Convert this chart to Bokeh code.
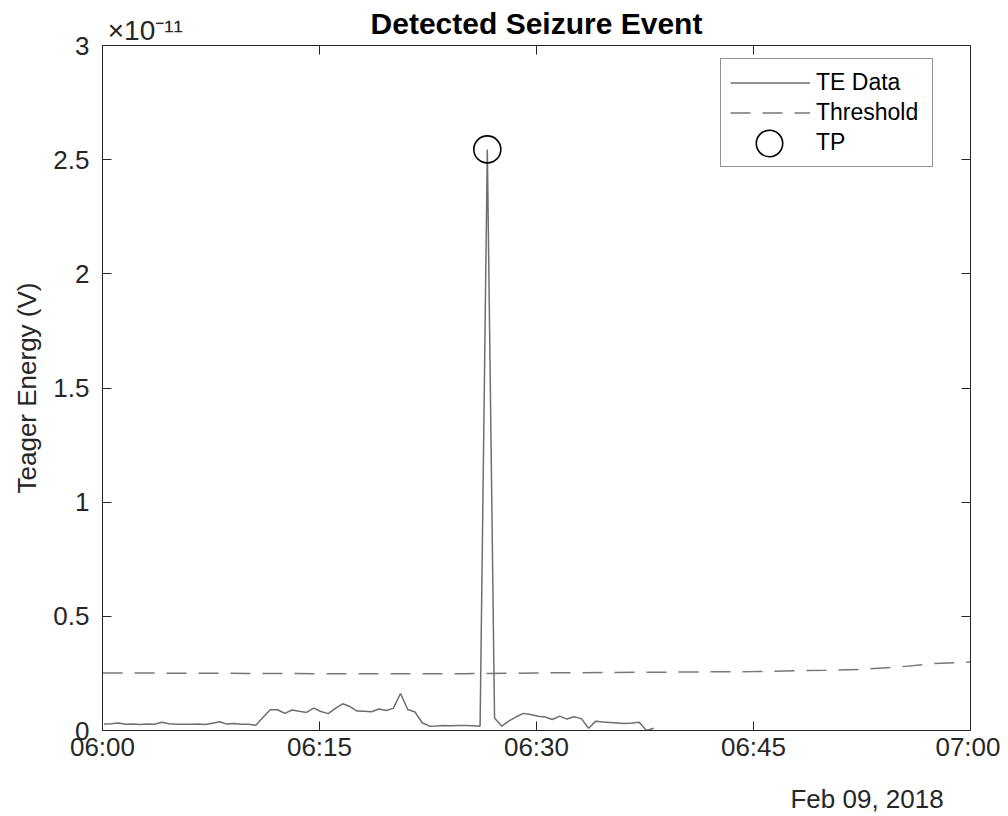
from bokeh.plotting import figure
from bokeh.models import Range1d, FixedTicker, LinearAxis, Legend, LegendItem
from bokeh.embed import file_html
from bokeh.resources import INLINE

# ---------------- data ----------------
title_text = "Detected Seizure Event"
ylabel_text = "Teager Energy (V)"
date_text = "Feb 09, 2018"
y_exponent_text = "\u00d710\u207b\u00b9\u00b9"     # x10^-11 scale factor

x_ticks = [0, 15, 30, 45, 60]                      # minutes after 06:00
x_tick_labels = ["06:00", "06:15", "06:30", "06:45", "07:00"]
y_ticks = [0, 0.5, 1, 1.5, 2, 2.5, 3]
y_tick_labels = ["0", "0.5", "1", "1.5", "2", "2.5", "3"]

# TE data, sampled every 30 s starting 06:00:06 (values in units of 1e-11 V)
te_first_min = 0.1
te_step_min = 0.5
te_values = [
    0.029, 0.030, 0.033, 0.027, 0.029, 0.026, 0.028, 0.027, 0.036, 0.030,
    0.027, 0.027, 0.027, 0.028, 0.026, 0.032, 0.038, 0.028, 0.031, 0.027,
    0.027, 0.023, 0.058, 0.091, 0.091, 0.075, 0.090, 0.084, 0.079, 0.098,
    0.083, 0.074, 0.097, 0.117, 0.105, 0.085, 0.084, 0.082, 0.094, 0.088,
    0.097, 0.162, 0.092, 0.081, 0.034, 0.019, 0.020, 0.022, 0.021, 0.022,
    0.022, 0.021, 0.019, 2.545, 0.055, 0.019, 0.042, 0.060, 0.075, 0.070,
    0.062, 0.059, 0.048, 0.063, 0.050, 0.060, 0.052, 0.010, 0.041, 0.037,
    0.035, 0.033, 0.031, 0.033, 0.036, 0.000, 0.010,
]
te_minutes = [te_first_min + te_step_min * i for i in range(len(te_values))]

thr_minutes = [0, 5, 10, 15, 20, 25, 30, 35, 40, 45, 50, 52.5, 55, 57.5, 60]
thr_values = [0.252, 0.251, 0.250, 0.249, 0.248, 0.249, 0.252, 0.254, 0.256,
              0.258, 0.264, 0.268, 0.278, 0.293, 0.300]

tp_minutes = [26.6]
tp_values = [2.545]

# ---------------- style ----------------
FONT = "Liberation Sans"
AX = "#262626"
TICK_FS = "26px"
W, H = 1000, 816
DATE_POS = 52.85          # horizontal position (in x units) of the date text centre

p = figure(width=W, height=H, title=None,
           x_range=Range1d(0, 60), y_range=Range1d(0, 3),
           output_backend="svg", toolbar_location=None,
           min_border_left=102, min_border_right=W - 970,
           min_border_top=45, min_border_bottom=H - 731,
           background_fill_color="white", border_fill_color="white")
p.xgrid.visible = False
p.ygrid.visible = False
p.outline_line_color = AX
p.outline_line_width = 1

def style_axis(ax, label_size):
    ax.axis_line_color = AX
    ax.axis_line_width = 1
    ax.major_tick_line_color = AX
    ax.major_tick_in = 9
    ax.major_tick_out = 0
    ax.minor_tick_line_color = None
    ax.major_label_text_font = FONT
    ax.major_label_text_color = AX
    ax.major_label_text_font_size = label_size

# bottom axis
xa = p.xaxis[0]
xa.ticker = FixedTicker(ticks=x_ticks)
xa.major_label_overrides = {t: l for t, l in zip(x_ticks, x_tick_labels)}
style_axis(xa, TICK_FS)
xa.major_label_standoff = 1

# date line under the bottom axis (label-only axis)
xd = LinearAxis(ticker=FixedTicker(ticks=[DATE_POS]))
xd.major_label_overrides = {DATE_POS: date_text}
xd.axis_line_color = None
xd.major_tick_line_color = None
xd.minor_tick_line_color = None
xd.major_label_text_font = FONT
xd.major_label_text_font_size = TICK_FS
xd.major_label_text_color = AX
xd.major_label_standoff = 13
p.add_layout(xd, "below")

# left axis
ya = p.yaxis[0]
ya.ticker = FixedTicker(ticks=y_ticks)
ya.major_label_overrides = {t: l for t, l in zip(y_ticks, y_tick_labels)}
style_axis(ya, TICK_FS)
ya.major_label_standoff = 13
ya.axis_label = ylabel_text
ya.axis_label_text_font = FONT
ya.axis_label_text_font_size = "26px"
ya.axis_label_text_font_style = "normal"
ya.axis_label_text_color = AX
ya.axis_label_standoff = 8

# right mirror axis (ticks only)
ya2 = LinearAxis(ticker=FixedTicker(ticks=y_ticks))
style_axis(ya2, "0px")
ya2.major_label_standoff = 0
p.add_layout(ya2, "right")

# top mirror axis: carries the x10^-11 factor (at the left end) and the title
pad = "\u00a0" * 11
top_labels = {t: "" for t in x_ticks}
top_labels[x_ticks[0]] = pad + y_exponent_text
xa2 = LinearAxis(ticker=FixedTicker(ticks=x_ticks))
style_axis(xa2, "28px")
xa2.major_label_overrides = top_labels
xa2.major_label_standoff = 0
xa2.axis_label = title_text
xa2.axis_label_text_font = FONT
xa2.axis_label_text_font_size = "30px"
xa2.axis_label_text_font_style = "bold"
xa2.axis_label_text_color = "black"
xa2.axis_label_standoff = -28
p.add_layout(xa2, "above")

# ---------------- glyphs ----------------
r_thr = p.line(thr_minutes, thr_values, line_color="#777777", line_width=1.5,
               line_dash="20 12")
r_te = p.line(te_minutes, te_values, line_color="#6e6e6e", line_width=1.5)
r_tp = p.scatter(tp_minutes, tp_values, marker="circle", size=27,
                 fill_color=None, line_color="black", line_width=1.6)
r_tp_blank = p.scatter(tp_minutes, tp_values, marker="circle", size=1,
                       fill_alpha=0, line_alpha=0)

# ---------------- legend ----------------
legend1 = Legend(items=[LegendItem(label="TE Data", renderers=[r_te]),
                        LegendItem(label="Threshold", renderers=[r_thr]),
                        LegendItem(label="TP", renderers=[r_tp_blank])],
                 location=(618, 563), padding=9, spacing=1,
                 glyph_width=80, glyph_height=29, label_height=29,
                 label_width=107, label_standoff=6, margin=0,
                 label_text_font=FONT, label_text_font_size="23px",
                 label_text_color="black",
                 border_line_color=AX, border_line_width=1,
                 background_fill_color="white", background_fill_alpha=1)
p.add_layout(legend1)
legend2 = Legend(items=[LegendItem(label=" ", renderers=[r_tp])],
                 location=(627, 554), padding=0, spacing=0, margin=0,
                 glyph_width=80, glyph_height=66, label_height=0,
                 label_width=0, label_standoff=0,
                 label_text_font_size="1px",
                 border_line_color=None, background_fill_alpha=0)
p.add_layout(legend2)

open("out.html", "w").write(file_html(p, INLINE))
